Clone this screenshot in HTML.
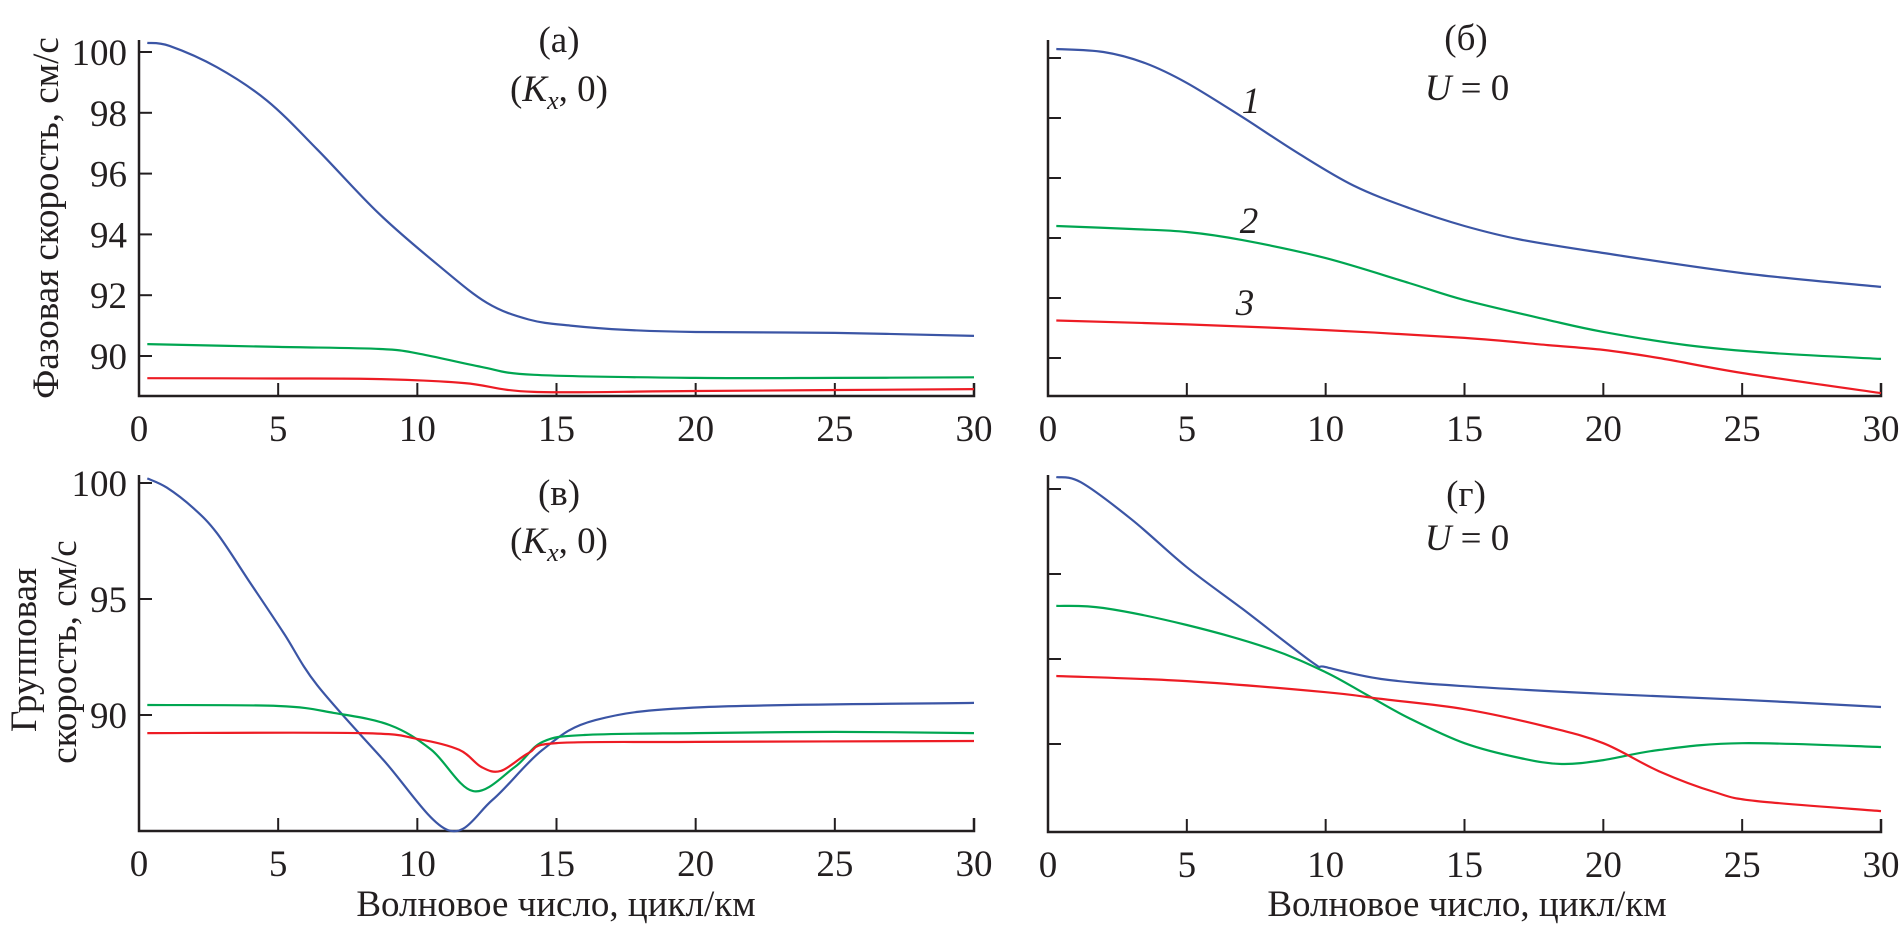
<!DOCTYPE html>
<html><head><meta charset="utf-8"><style>
html,body{margin:0;padding:0;background:#fff;}
svg{display:block;font-family:"Liberation Serif","DejaVu Serif",serif;}
text{font-family:"Liberation Serif","DejaVu Serif",serif;}
</style></head><body>
<svg id="chart" width="1902" height="930" viewBox="0 0 1902 930"></svg>
<script>
// ---- data ----
const aBlueX=[0.3,1.1,2.8,4.6,6.4,8.6,10.8,12.5,14,15.5,17.5,20,25,30];
const aBlueY=[100.3,100.2,99.5,98.4,96.8,94.7,92.95,91.75,91.2,91.0,90.86,90.79,90.76,90.66];
const aGreenX=[0.3,5,8.67,10.1,12.3,14.2,20,25,30];
const aGreenY=[90.39,90.3,90.23,90.07,89.64,89.38,89.28,89.28,89.3];
const aRedX=[0.3,5,8.67,11.7,14.2,20,30];
const aRedY=[89.27,89.26,89.24,89.11,88.82,88.85,88.91];

const bBlueX=[0.3,2,3.5,5,7,9,11,13,15,17,20,25,30];
const bBlueY=[100.3,100.2,99.83,99.17,98.03,96.83,95.75,95.0,94.4,93.95,93.5,92.83,92.37];
const bGreenX=[0.3,3,5,7,10,13,15,18,20,23,26,30];
const bGreenY=[94.4,94.3,94.2,93.93,93.33,92.5,91.93,91.27,90.87,90.43,90.17,89.97];
const bRedX=[0.3,5,10,15,18,20,22,25,30];
const bRedY=[91.25,91.12,90.93,90.67,90.43,90.27,90.0,89.5,88.83];

const vBlueX=[0.3,1.0,1.95,2.8,4,5.2,6.4,8.78,11.1,12.7,14.5,16.4,20.3,30];
const vBlueY=[100.2,99.8,98.92,97.84,95.69,93.53,91.29,88.06,85.04,86.34,88.5,89.78,90.34,90.52];
const vGreenX=[0.3,5,7,9,10.5,12,13.5,14.5,16,20,25,30];
const vGreenY=[90.43,90.39,90.09,89.57,88.5,86.72,87.76,88.84,89.14,89.22,89.27,89.22];
const vRedX=[0.3,8,10,11.5,12.3,13,14,15,20,30];
const vRedY=[89.22,89.22,88.97,88.5,87.76,87.59,88.36,88.79,88.84,88.88];

const gBlueX=[0.3,1.18,3,5,7,9.5,10,12,15,20,25,30];
const gBlueY=[100.28,100.16,99.29,98.16,97.18,95.93,95.81,95.53,95.36,95.18,95.04,94.87];
const gGreenX=[0.3,2,5,8,10,11.5,13,15,17,18.5,20,22,25,30];
const gGreenY=[97.25,97.2,96.8,96.24,95.69,95.15,94.61,94.02,93.67,93.53,93.62,93.86,94.02,93.93];
const gRedX=[0.3,5,10,12,15,18,20,22,24,25.5,30];
const gRedY=[95.6,95.48,95.22,95.06,94.82,94.4,94.02,93.36,92.87,92.66,92.42];

const xTicks=[0,5,10,15,20,25,30];
const aYTicks=[90,92,94,96,98,100];
const vYTicks=[90,95,100];
const bYTicks=[90,92,94,96,98,100];
const gYTicks=[94,96,98,100];

const BLUE="#3b55a5",GREEN="#00a651",RED="#ed1c24";
const NS="http://www.w3.org/2000/svg";
const svg=document.getElementById('chart');
function mk(tag,attrs,parent){const e=document.createElementNS(NS,tag);for(const k in attrs)e.setAttribute(k,attrs[k]);(parent||svg).appendChild(e);return e;}

function path(xs,ys,sx,sy){
  const p=xs.map((x,i)=>[sx(x),sy(ys[i])]);
  let d="M"+p[0][0].toFixed(1)+","+p[0][1].toFixed(1);
  for(let i=0;i<p.length-1;i++){
    const p0=p[i-1]||p[i],p1=p[i],p2=p[i+1],p3=p[i+2]||p2;
    const c1=[p1[0]+(p2[0]-p0[0])/6,p1[1]+(p2[1]-p0[1])/6];
    const c2=[p2[0]-(p3[0]-p1[0])/6,p2[1]-(p3[1]-p1[1])/6];
    d+="C"+c1[0].toFixed(1)+","+c1[1].toFixed(1)+" "+c2[0].toFixed(1)+","+c2[1].toFixed(1)+" "+p2[0].toFixed(1)+","+p2[1].toFixed(1);
  }
  return d;
}

function panel(cfg){
  const g=mk('g',{});
  
  
  const sx=x=>cfg.x0+(x/30)*(cfg.x1-cfg.x0);
  const sy=v=>cfg.yRef-(v-cfg.vRef)*cfg.ppu;
  const ax=mk('path',{d:`M${cfg.x0},${cfg.top} L${cfg.x0},${cfg.bot} L${cfg.x1},${cfg.bot} L${cfg.x1},${cfg.bot-13}`,fill:'none',stroke:'#231f20','stroke-width':2.5},g);
  
  
  xTicks.forEach(t=>{
    const X=sx(t);
    const tk=mk('line',{x1:X,x2:X,y1:cfg.bot,y2:cfg.bot-13,stroke:'#231f20','stroke-width':2},g);
    
    
    const lb=mk('text',{x:X,y:cfg.bot+45,'text-anchor':'middle','font-size':37,fill:'#231f20'},g);
    lb.textContent=t;
    
    
  });
  cfg.yTicks.forEach(t=>{
    const Y=sy(t);
    const tk=mk('line',{x1:cfg.x0,x2:cfg.x0+13,y1:Y,y2:Y,stroke:'#231f20','stroke-width':2},g);
    
    
    if(cfg.labels){
      const lb=mk('text',{x:cfg.x0-12,y:Y+13,'text-anchor':'end','font-size':37,fill:'#231f20'},g);
      lb.textContent=t;
      
      
    }
  });
  cfg.series.forEach(s=>{
    const l=mk('path',{d:path(s[0],s[1],sx,sy),fill:'none',stroke:s[2],'stroke-width':2.2},g);
    
    
  });
  return g;
}

panel({name:'panel-a',x0:139,x1:974,top:40,bot:396,yRef:52,vRef:100,ppu:30.4,yTicks:aYTicks,labels:true,
  series:[[aBlueX,aBlueY,BLUE,'curve-1'],[aGreenX,aGreenY,GREEN,'curve-2'],[aRedX,aRedY,RED,'curve-3']]});
panel({name:'panel-b',x0:1048,x1:1881,top:40,bot:396,yRef:58,vRef:100,ppu:30,yTicks:bYTicks,labels:false,
  series:[[bBlueX,bBlueY,BLUE,'curve-1'],[bGreenX,bGreenY,GREEN,'curve-2'],[bRedX,bRedY,RED,'curve-3']]});
panel({name:'panel-v',x0:139,x1:974,top:475,bot:831,yRef:483,vRef:100,ppu:23.2,yTicks:vYTicks,labels:true,
  series:[[vBlueX,vBlueY,BLUE,'curve-1'],[vGreenX,vGreenY,GREEN,'curve-2'],[vRedX,vRedY,RED,'curve-3']]});
panel({name:'panel-g',x0:1048,x1:1881,top:475,bot:832,yRef:489,vRef:100,ppu:42.5,yTicks:gYTicks,labels:false,
  series:[[gBlueX,gBlueY,BLUE,'curve-1'],[gGreenX,gGreenY,GREEN,'curve-2'],[gRedX,gRedY,RED,'curve-3']]});
</script>
<svg width="1902" height="930" style="position:absolute;left:0;top:0;">
  <g fill="#231f20" font-size="37" text-anchor="middle">
    <text x="559" y="52">(а)</text>
    <text x="559" y="101">(<tspan font-style="italic">K</tspan><tspan font-style="italic" font-size="26" dy="8">x</tspan><tspan dy="-8">, 0)</tspan></text>
    <text x="1466" y="50">(б)</text>
    <text x="1467" y="100"><tspan font-style="italic">U</tspan> = 0</text>
    <text x="559" y="505">(в)</text>
    <text x="559" y="553">(<tspan font-style="italic">K</tspan><tspan font-style="italic" font-size="26" dy="8">x</tspan><tspan dy="-8">, 0)</tspan></text>
    <text x="1466" y="506">(г)</text>
    <text x="1467" y="550"><tspan font-style="italic">U</tspan> = 0</text>
    <text x="1251" y="113" font-style="italic">1</text>
    <text x="1249" y="233" font-style="italic">2</text>
    <text x="1245" y="315" font-style="italic">3</text>
    <text x="556" y="916">Волновое число, цикл/км</text>
    <text x="1467" y="916">Волновое число, цикл/км</text>
    <text transform="translate(58,218) rotate(-90)">Фазовая скорость, см/с</text>
    <text transform="translate(36,650) rotate(-90)">Групповая</text>
    <text transform="translate(76,652) rotate(-90)">скорость, см/с</text>
  </g>
</svg>
</body></html>
